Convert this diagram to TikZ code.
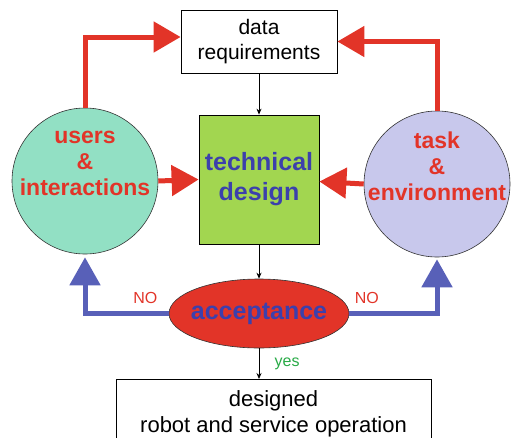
\documentclass[tikz,border=0pt]{standalone}
\usepackage{fontspec}
\setmainfont{Liberation Sans}
\usepackage{xcolor}
\usetikzlibrary{arrows.meta,positioning,shapes.geometric}
\definecolor{myred}{RGB}{226,52,40}
\definecolor{myblue}{RGB}{88,96,184}
\definecolor{txtblue}{RGB}{60,64,172}
\definecolor{mint}{RGB}{146,224,196}
\definecolor{lavender}{RGB}{200,200,236}
\definecolor{leaf}{RGB}{162,214,80}
\definecolor{mygreen}{RGB}{40,170,70}

\begin{document}
\begin{tikzpicture}[x=1pt, y=1pt,
    box/.style={draw, line width=0.8pt, align=center, inner sep=0pt},
    blob/.style={circle, draw=black!80, line width=0.6pt, minimum size=146pt, inner sep=0pt},
    blobtext/.style={align=center, text=myred, font=\bfseries\fontsize{23}{26}\selectfont, yshift=18pt},
    bigred/.style={draw=myred, line width=5pt, -{Triangle[length=27pt,width=30pt]}},
    bigblue/.style={draw=myblue, line width=5pt, -{Triangle[length=28pt,width=30pt]}},
    thin/.style={line width=0.8pt, -{Stealth[length=6pt,width=5pt]}},
    lbl/.style={font=\fontsize{16}{18}\selectfont}]
  \useasboundingbox (0,0) rectangle (513,-437);
        \node[box, minimum width=156pt, minimum height=63pt, font=\fontsize{21}{25}\selectfont] (data) at (259,-41.5) {data\\requirements};
        \node[box, fill=leaf, minimum width=120pt, minimum height=129pt, text=txtblue, font=\bfseries\fontsize{25}{30}\selectfont] (tech) at (259,-179.5) {technical\\design};
        \node[blob, fill=mint, label={[blobtext]center:users\\\&\\interactions}] (users) at (85,-181) {};
        \node[blob, fill=lavender, label={[blobtext]center:task\\\&\\environment}] (task) at (437,-184) {};
        \node[ellipse, draw=black!80, line width=0.6pt, fill=myred, minimum width=180pt, minimum height=69pt, inner sep=0pt,
          label={[text=txtblue, font=\bfseries\fontsize{25}{30}\selectfont]center:acceptance}] (accept) at (259,-313.5) {};
        \node[box, minimum width=315pt, minimum height=68pt, font=\fontsize{22}{26}\selectfont, anchor=north] (result) at (273.5,-379) {designed\\robot and service operation};
        \path
          (users.north) edge [bigred, to path={|- (\tikztotarget)}] ([yshift=4.5pt]data.west)
          (task.north) edge [bigred, to path={|- (\tikztotarget)}] (data.east)
          (users.east) edge [bigred] (tech.west)
          (task.west) edge [bigred] ([yshift=-2pt]tech.east)
          (data.south) edge [thin] (tech.north)
          (tech.south) edge [thin] (accept.north)
          (accept.south) edge [thin] node[lbl, right=12pt, text=mygreen] {yes} (result.north -| accept.south);
        \draw[bigblue] (accept.west) -| node[lbl, above=4pt, pos=0.14, text=myred] {NO} ([yshift=-3pt]users.south);
        \draw[bigblue] (accept.east) -| node[lbl, above=4pt, pos=0.1, text=myred] {NO} ([yshift=-2pt]task.south);
  \end{tikzpicture}
\end{document}
